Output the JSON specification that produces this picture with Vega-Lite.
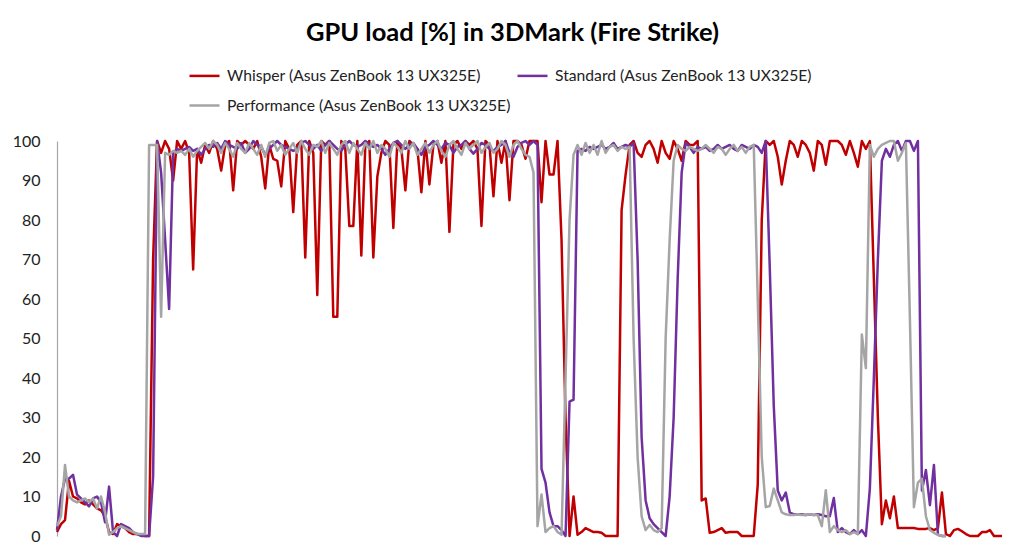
{
  "$schema": "https://vega.github.io/schema/vega-lite/v6.json",
  "width": 945,
  "height": 395,
  "autosize": {"type": "none"},
  "padding": {"left": 57, "top": 141, "right": 22, "bottom": 21},
  "background": "white",
  "config": {"view": {"stroke": null}, "font": "Lato"},
  "title": {
    "text": "GPU load [%] in 3DMark (Fire Strike)",
    "font": "Lato",
    "fontSize": 25.5,
    "fontWeight": "bold",
    "color": "#000000",
    "anchor": "middle",
    "frame": "group",
    "dx": -17,
    "offset": 13
  },
  "data": {
    "values": [
      {"t": 0, "w": 1, "s": 1.5, "p": 2.5},
      {"t": 1, "w": 3, "s": 10, "p": 5},
      {"t": 2, "w": 4, "s": 14.5, "p": 18},
      {"t": 3, "w": 14, "s": 14.5, "p": 10},
      {"t": 4, "w": 10, "s": 15.5, "p": 9},
      {"t": 5, "w": 9.5, "s": 10.5, "p": 8.5},
      {"t": 6, "w": 8.5, "s": 9.5, "p": 9},
      {"t": 7, "w": 8, "s": 8.5, "p": 9.5},
      {"t": 8, "w": 9, "s": 7.5, "p": 8.5},
      {"t": 9, "w": 8, "s": 9.5, "p": 9.5},
      {"t": 10, "w": 7, "s": 10, "p": 7},
      {"t": 11, "w": 6.5, "s": 8.5, "p": 10},
      {"t": 12, "w": 5, "s": 3.5, "p": 6},
      {"t": 13, "w": 1, "s": 12.5, "p": 0.3},
      {"t": 14, "w": 0.5, "s": 1, "p": 1},
      {"t": 15, "w": 3, "s": 0, "p": 2},
      {"t": 16, "w": 2.5, "s": 3, "p": 2.5},
      {"t": 17, "w": 2, "s": 2.5, "p": 2},
      {"t": 18, "w": 1, "s": 2, "p": 1.5},
      {"t": 19, "w": 0.5, "s": 1, "p": 1},
      {"t": 20, "w": 0.5, "s": 0.5, "p": 0.5},
      {"t": 21, "w": 0.3, "s": 0, "p": 0.5},
      {"t": 22, "w": 0, "s": 0, "p": 0.5},
      {"t": 23, "w": 0, "s": 0, "p": 99},
      {"t": 24, "w": 70, "s": 15, "p": 99},
      {"t": 25, "w": 100, "s": 100, "p": 99},
      {"t": 26, "w": 97, "s": 92, "p": 55.5},
      {"t": 27, "w": 100, "s": 75, "p": 97},
      {"t": 28, "w": 98, "s": 57.5, "p": 96.5},
      {"t": 29, "w": 90, "s": 97, "p": 97.5},
      {"t": 30, "w": 100, "s": 98, "p": 97},
      {"t": 31, "w": 98, "s": 97.5, "p": 97.5},
      {"t": 32, "w": 100, "s": 98, "p": 96.5},
      {"t": 33, "w": 97, "s": 98.5, "p": 98},
      {"t": 34, "w": 67.5, "s": 97.5, "p": 96},
      {"t": 35, "w": 98, "s": 98, "p": 97.5},
      {"t": 36, "w": 94.5, "s": 96.5, "p": 98.5},
      {"t": 37, "w": 99, "s": 98, "p": 99.5},
      {"t": 38, "w": 97, "s": 99, "p": 98},
      {"t": 39, "w": 100, "s": 98.5, "p": 100},
      {"t": 40, "w": 98, "s": 99.5, "p": 99},
      {"t": 41, "w": 92.5, "s": 98, "p": 97},
      {"t": 42, "w": 99, "s": 100, "p": 99.5},
      {"t": 43, "w": 100, "s": 99, "p": 98},
      {"t": 44, "w": 87.5, "s": 98.5, "p": 96},
      {"t": 45, "w": 100, "s": 98, "p": 99.5},
      {"t": 46, "w": 99, "s": 99.5, "p": 98},
      {"t": 47, "w": 100, "s": 97, "p": 97},
      {"t": 48, "w": 99, "s": 98, "p": 99.5},
      {"t": 49, "w": 98, "s": 100, "p": 98},
      {"t": 50, "w": 100, "s": 99, "p": 96.5},
      {"t": 51, "w": 96, "s": 98.5, "p": 99},
      {"t": 52, "w": 88, "s": 96.5, "p": 96},
      {"t": 53, "w": 99, "s": 98, "p": 99.5},
      {"t": 54, "w": 95.5, "s": 99, "p": 100},
      {"t": 55, "w": 95, "s": 100, "p": 97.5},
      {"t": 56, "w": 88.5, "s": 99, "p": 99},
      {"t": 57, "w": 100, "s": 98.5, "p": 96.5},
      {"t": 58, "w": 98, "s": 98, "p": 98},
      {"t": 59, "w": 82, "s": 97.5, "p": 99.5},
      {"t": 60, "w": 99, "s": 98, "p": 97},
      {"t": 61, "w": 100, "s": 99.5, "p": 100},
      {"t": 62, "w": 70.5, "s": 100, "p": 98},
      {"t": 63, "w": 100, "s": 99, "p": 96.5},
      {"t": 64, "w": 97, "s": 98, "p": 99},
      {"t": 65, "w": 61, "s": 99, "p": 98.5},
      {"t": 66, "w": 100, "s": 97.5, "p": 100},
      {"t": 67, "w": 99, "s": 99, "p": 97},
      {"t": 68, "w": 100, "s": 100, "p": 99.5},
      {"t": 69, "w": 55.5, "s": 99, "p": 98},
      {"t": 70, "w": 55.5, "s": 98, "p": 96.5},
      {"t": 71, "w": 100, "s": 97.5, "p": 99},
      {"t": 72, "w": 98, "s": 99, "p": 100},
      {"t": 73, "w": 78.5, "s": 100, "p": 97},
      {"t": 74, "w": 78.5, "s": 99, "p": 99.5},
      {"t": 75, "w": 100, "s": 98.5, "p": 98},
      {"t": 76, "w": 71, "s": 99, "p": 96.5},
      {"t": 77, "w": 99, "s": 100, "p": 99.5},
      {"t": 78, "w": 100, "s": 99, "p": 98},
      {"t": 79, "w": 70.5, "s": 98.5, "p": 100},
      {"t": 80, "w": 91, "s": 99, "p": 97},
      {"t": 81, "w": 97, "s": 98, "p": 99},
      {"t": 82, "w": 100, "s": 96.5, "p": 98},
      {"t": 83, "w": 99, "s": 98, "p": 96},
      {"t": 84, "w": 78, "s": 99.5, "p": 99.5},
      {"t": 85, "w": 100, "s": 100, "p": 98.5},
      {"t": 86, "w": 98, "s": 99, "p": 97},
      {"t": 87, "w": 87.5, "s": 98, "p": 100},
      {"t": 88, "w": 100, "s": 99, "p": 98},
      {"t": 89, "w": 99, "s": 99.5, "p": 99.5},
      {"t": 90, "w": 98, "s": 98, "p": 96.5},
      {"t": 91, "w": 87, "s": 96.5, "p": 98},
      {"t": 92, "w": 100, "s": 98.5, "p": 99.5},
      {"t": 93, "w": 89, "s": 99, "p": 97},
      {"t": 94, "w": 99, "s": 100, "p": 99},
      {"t": 95, "w": 100, "s": 99, "p": 100},
      {"t": 96, "w": 94.5, "s": 98, "p": 97.5},
      {"t": 97, "w": 100, "s": 99.5, "p": 96},
      {"t": 98, "w": 77, "s": 99, "p": 99},
      {"t": 99, "w": 99, "s": 97, "p": 100},
      {"t": 100, "w": 100, "s": 98.5, "p": 98},
      {"t": 101, "w": 98, "s": 99, "p": 96.5},
      {"t": 102, "w": 100, "s": 100, "p": 99.5},
      {"t": 103, "w": 99, "s": 98, "p": 98},
      {"t": 104, "w": 100, "s": 96.8, "p": 99},
      {"t": 105, "w": 98, "s": 98, "p": 100},
      {"t": 106, "w": 78.5, "s": 99.5, "p": 97},
      {"t": 107, "w": 100, "s": 99, "p": 98.5},
      {"t": 108, "w": 99, "s": 98, "p": 99.5},
      {"t": 109, "w": 86, "s": 97.5, "p": 97},
      {"t": 110, "w": 100, "s": 98.5, "p": 98},
      {"t": 111, "w": 94.5, "s": 99, "p": 100},
      {"t": 112, "w": 100, "s": 100, "p": 99},
      {"t": 113, "w": 85, "s": 97, "p": 96},
      {"t": 114, "w": 100, "s": 96, "p": 99},
      {"t": 115, "w": 100, "s": 98.5, "p": 100},
      {"t": 116, "w": 99, "s": 99.5, "p": 98},
      {"t": 117, "w": 95.5, "s": 100, "p": 96.5},
      {"t": 118, "w": 100, "s": 99, "p": 96},
      {"t": 119, "w": 100, "s": 100, "p": 92},
      {"t": 120, "w": 100, "s": 99, "p": 2.5},
      {"t": 121, "w": 84.5, "s": 17, "p": 10.5},
      {"t": 122, "w": 100, "s": 13.5, "p": 1},
      {"t": 123, "w": 91.5, "s": 6, "p": 2},
      {"t": 124, "w": 91.5, "s": 2.5, "p": 2.5},
      {"t": 125, "w": 100, "s": 2.5, "p": 1},
      {"t": 126, "w": 75, "s": 1.5, "p": 0.3},
      {"t": 127, "w": 30, "s": 0, "p": 40},
      {"t": 128, "w": 0, "s": 34, "p": 80},
      {"t": 129, "w": 10, "s": 34.5, "p": 96.5},
      {"t": 130, "w": 0.3, "s": 97.5, "p": 99},
      {"t": 131, "w": 1, "s": 98, "p": 96.5},
      {"t": 132, "w": 2, "s": 97.5, "p": 99.5},
      {"t": 133, "w": 1.5, "s": 98.5, "p": 97},
      {"t": 134, "w": 1, "s": 98, "p": 99},
      {"t": 135, "w": 1, "s": 98.5, "p": 96.5},
      {"t": 136, "w": 0.8, "s": 99, "p": 100},
      {"t": 137, "w": 0, "s": 98, "p": 97},
      {"t": 138, "w": 0, "s": 98.5, "p": 98.5},
      {"t": 139, "w": 0, "s": 99.5, "p": 99},
      {"t": 140, "w": 0, "s": 98, "p": 97.5},
      {"t": 141, "w": 82.5, "s": 98.5, "p": 98.5},
      {"t": 142, "w": 91.5, "s": 99, "p": 98},
      {"t": 143, "w": 99, "s": 98.5, "p": 98.5},
      {"t": 144, "w": 100, "s": 99.5, "p": 50},
      {"t": 145, "w": 97, "s": 70, "p": 20},
      {"t": 146, "w": 96, "s": 25, "p": 5},
      {"t": 147, "w": 99, "s": 9, "p": 1.5},
      {"t": 148, "w": 100, "s": 4.5, "p": 2.8},
      {"t": 149, "w": 98, "s": 3, "p": 1.5},
      {"t": 150, "w": 94.5, "s": 2, "p": 1},
      {"t": 151, "w": 100, "s": 1, "p": 2},
      {"t": 152, "w": 97, "s": 0, "p": 50},
      {"t": 153, "w": 95.5, "s": 10, "p": 75},
      {"t": 154, "w": 100, "s": 30, "p": 95},
      {"t": 155, "w": 98, "s": 65, "p": 99},
      {"t": 156, "w": 95, "s": 92, "p": 98},
      {"t": 157, "w": 100, "s": 99.5, "p": 97.5},
      {"t": 158, "w": 99, "s": 98.5, "p": 98.5},
      {"t": 159, "w": 99, "s": 97, "p": 98},
      {"t": 160, "w": 100, "s": 98.5, "p": 97.5},
      {"t": 161, "w": 9, "s": 98, "p": 98},
      {"t": 162, "w": 9.5, "s": 98.5, "p": 99},
      {"t": 163, "w": 0.8, "s": 97.5, "p": 98},
      {"t": 164, "w": 1, "s": 98, "p": 97},
      {"t": 165, "w": 1.5, "s": 99, "p": 98.5},
      {"t": 166, "w": 2, "s": 98, "p": 98},
      {"t": 167, "w": 0.8, "s": 98.5, "p": 96.5},
      {"t": 168, "w": 1, "s": 99, "p": 98},
      {"t": 169, "w": 1, "s": 98, "p": 99},
      {"t": 170, "w": 1, "s": 97.5, "p": 97.5},
      {"t": 171, "w": 0, "s": 99, "p": 98.5},
      {"t": 172, "w": 0, "s": 98.5, "p": 97},
      {"t": 173, "w": 0, "s": 98, "p": 98.5},
      {"t": 174, "w": 0, "s": 99, "p": 99},
      {"t": 175, "w": 13, "s": 98.5, "p": 60},
      {"t": 176, "w": 80, "s": 97, "p": 20},
      {"t": 177, "w": 100, "s": 100, "p": 7.3},
      {"t": 178, "w": 99, "s": 68, "p": 7.6},
      {"t": 179, "w": 100, "s": 33, "p": 12},
      {"t": 180, "w": 96, "s": 11.5, "p": 9},
      {"t": 181, "w": 89, "s": 9, "p": 6},
      {"t": 182, "w": 95, "s": 11, "p": 5.5},
      {"t": 183, "w": 100, "s": 6, "p": 5.3},
      {"t": 184, "w": 99, "s": 5.5, "p": 5.3},
      {"t": 185, "w": 96, "s": 5.5, "p": 5.5},
      {"t": 186, "w": 100, "s": 5.5, "p": 5.3},
      {"t": 187, "w": 99, "s": 5.3, "p": 5.3},
      {"t": 188, "w": 97, "s": 5.5, "p": 5.5},
      {"t": 189, "w": 92.5, "s": 5.3, "p": 5.3},
      {"t": 190, "w": 100, "s": 5.5, "p": 5.3},
      {"t": 191, "w": 99, "s": 5.3, "p": 2.5},
      {"t": 192, "w": 94, "s": 5, "p": 11.6},
      {"t": 193, "w": 100, "s": 5, "p": 1},
      {"t": 194, "w": 100, "s": 9.6, "p": 2.5},
      {"t": 195, "w": 100, "s": 1, "p": 1.5},
      {"t": 196, "w": 99, "s": 2, "p": 1},
      {"t": 197, "w": 96.5, "s": 1, "p": 1.5},
      {"t": 198, "w": 100, "s": 0.5, "p": 0.5},
      {"t": 199, "w": 97, "s": 1.5, "p": 1},
      {"t": 200, "w": 93.5, "s": 0.5, "p": 0.5},
      {"t": 201, "w": 100, "s": 1.5, "p": 51},
      {"t": 202, "w": 98, "s": 0, "p": 42.5},
      {"t": 203, "w": 100, "s": 12, "p": 99},
      {"t": 204, "w": 65, "s": 40, "p": 96},
      {"t": 205, "w": 30, "s": 70, "p": 98},
      {"t": 206, "w": 3, "s": 95, "p": 99},
      {"t": 207, "w": 9, "s": 98, "p": 99.5},
      {"t": 208, "w": 4.5, "s": 96, "p": 100},
      {"t": 209, "w": 10, "s": 99, "p": 100},
      {"t": 210, "w": 2, "s": 100, "p": 95},
      {"t": 211, "w": 2, "s": 97.5, "p": 97},
      {"t": 212, "w": 2, "s": 100, "p": 99.5},
      {"t": 213, "w": 2, "s": 100, "p": 55},
      {"t": 214, "w": 2, "s": 97.5, "p": 7.3},
      {"t": 215, "w": 1.8, "s": 100, "p": 13.5},
      {"t": 216, "w": 1.8, "s": 11.5, "p": 14.5},
      {"t": 217, "w": 1.8, "s": 16.7, "p": 5},
      {"t": 218, "w": 2, "s": 7.8, "p": 1.5},
      {"t": 219, "w": 1.5, "s": 18, "p": 0.8},
      {"t": 220, "w": 2, "s": 0.3, "p": 0.3},
      {"t": 221, "w": 11, "s": 0, "p": 0},
      {"t": 222, "w": 0.5, "s": 0, "p": 0},
      {"t": 223, "w": 0},
      {"t": 224, "w": 1.5},
      {"t": 225, "w": 1.8},
      {"t": 226, "w": 1.2},
      {"t": 227, "w": 0.5},
      {"t": 228, "w": 0},
      {"t": 229, "w": 0},
      {"t": 230, "w": 0},
      {"t": 231, "w": 1},
      {"t": 232, "w": 1},
      {"t": 233, "w": 1.5},
      {"t": 234, "w": 0},
      {"t": 235, "w": 0},
      {"t": 236, "w": 0}
    ]
  },
  "transform": [
    {"fold": ["w", "s", "p"], "as": ["k", "v"]},
    {"filter": "isValid(datum.v)"}
  ],
  "mark": {"type": "line", "strokeWidth": 2.5, "strokeJoin": "round"},
  "encoding": {
    "x": {
      "field": "t",
      "type": "quantitative",
      "scale": {"domain": [0, 236], "nice": false, "zero": false},
      "axis": null
    },
    "y": {
      "field": "v",
      "type": "quantitative",
      "scale": {"domain": [0, 100], "nice": false},
      "axis": {
        "title": null,
        "values": [0, 10, 20, 30, 40, 50, 60, 70, 80, 90, 100],
        "ticks": false,
        "grid": false,
        "domainColor": "#a6a6a6",
        "domainWidth": 1.2,
        "labelFont": "Lato",
        "labelFontSize": 16,
        "labelColor": "#222222",
        "labelPadding": 17
      }
    },
    "color": {
      "field": "k",
      "type": "nominal",
      "scale": {"domain": ["w", "s", "p"], "range": ["#C00000", "#7030A0", "#A5A5A5"]},
      "legend": {
        "orient": "none",
        "legendX": 131,
        "legendY": -82,
        "direction": "horizontal",
        "columns": 2,
        "title": null,
        "symbolType": "stroke",
        "symbolSize": 900,
        "symbolStrokeWidth": 2.5,
        "labelFont": "Lato",
        "labelFontSize": 15.7,
        "labelColor": "#222222",
        "labelOffset": 6,
        "labelLimit": 400,
        "columnPadding": 1,
        "rowPadding": 5,
        "labelExpr": "datum.label == 'w' ? 'Whisper (Asus ZenBook 13 UX325E)' : datum.label == 's' ? 'Standard (Asus ZenBook 13 UX325E)' : 'Performance (Asus ZenBook 13 UX325E)'"
      }
    }
  }
}
